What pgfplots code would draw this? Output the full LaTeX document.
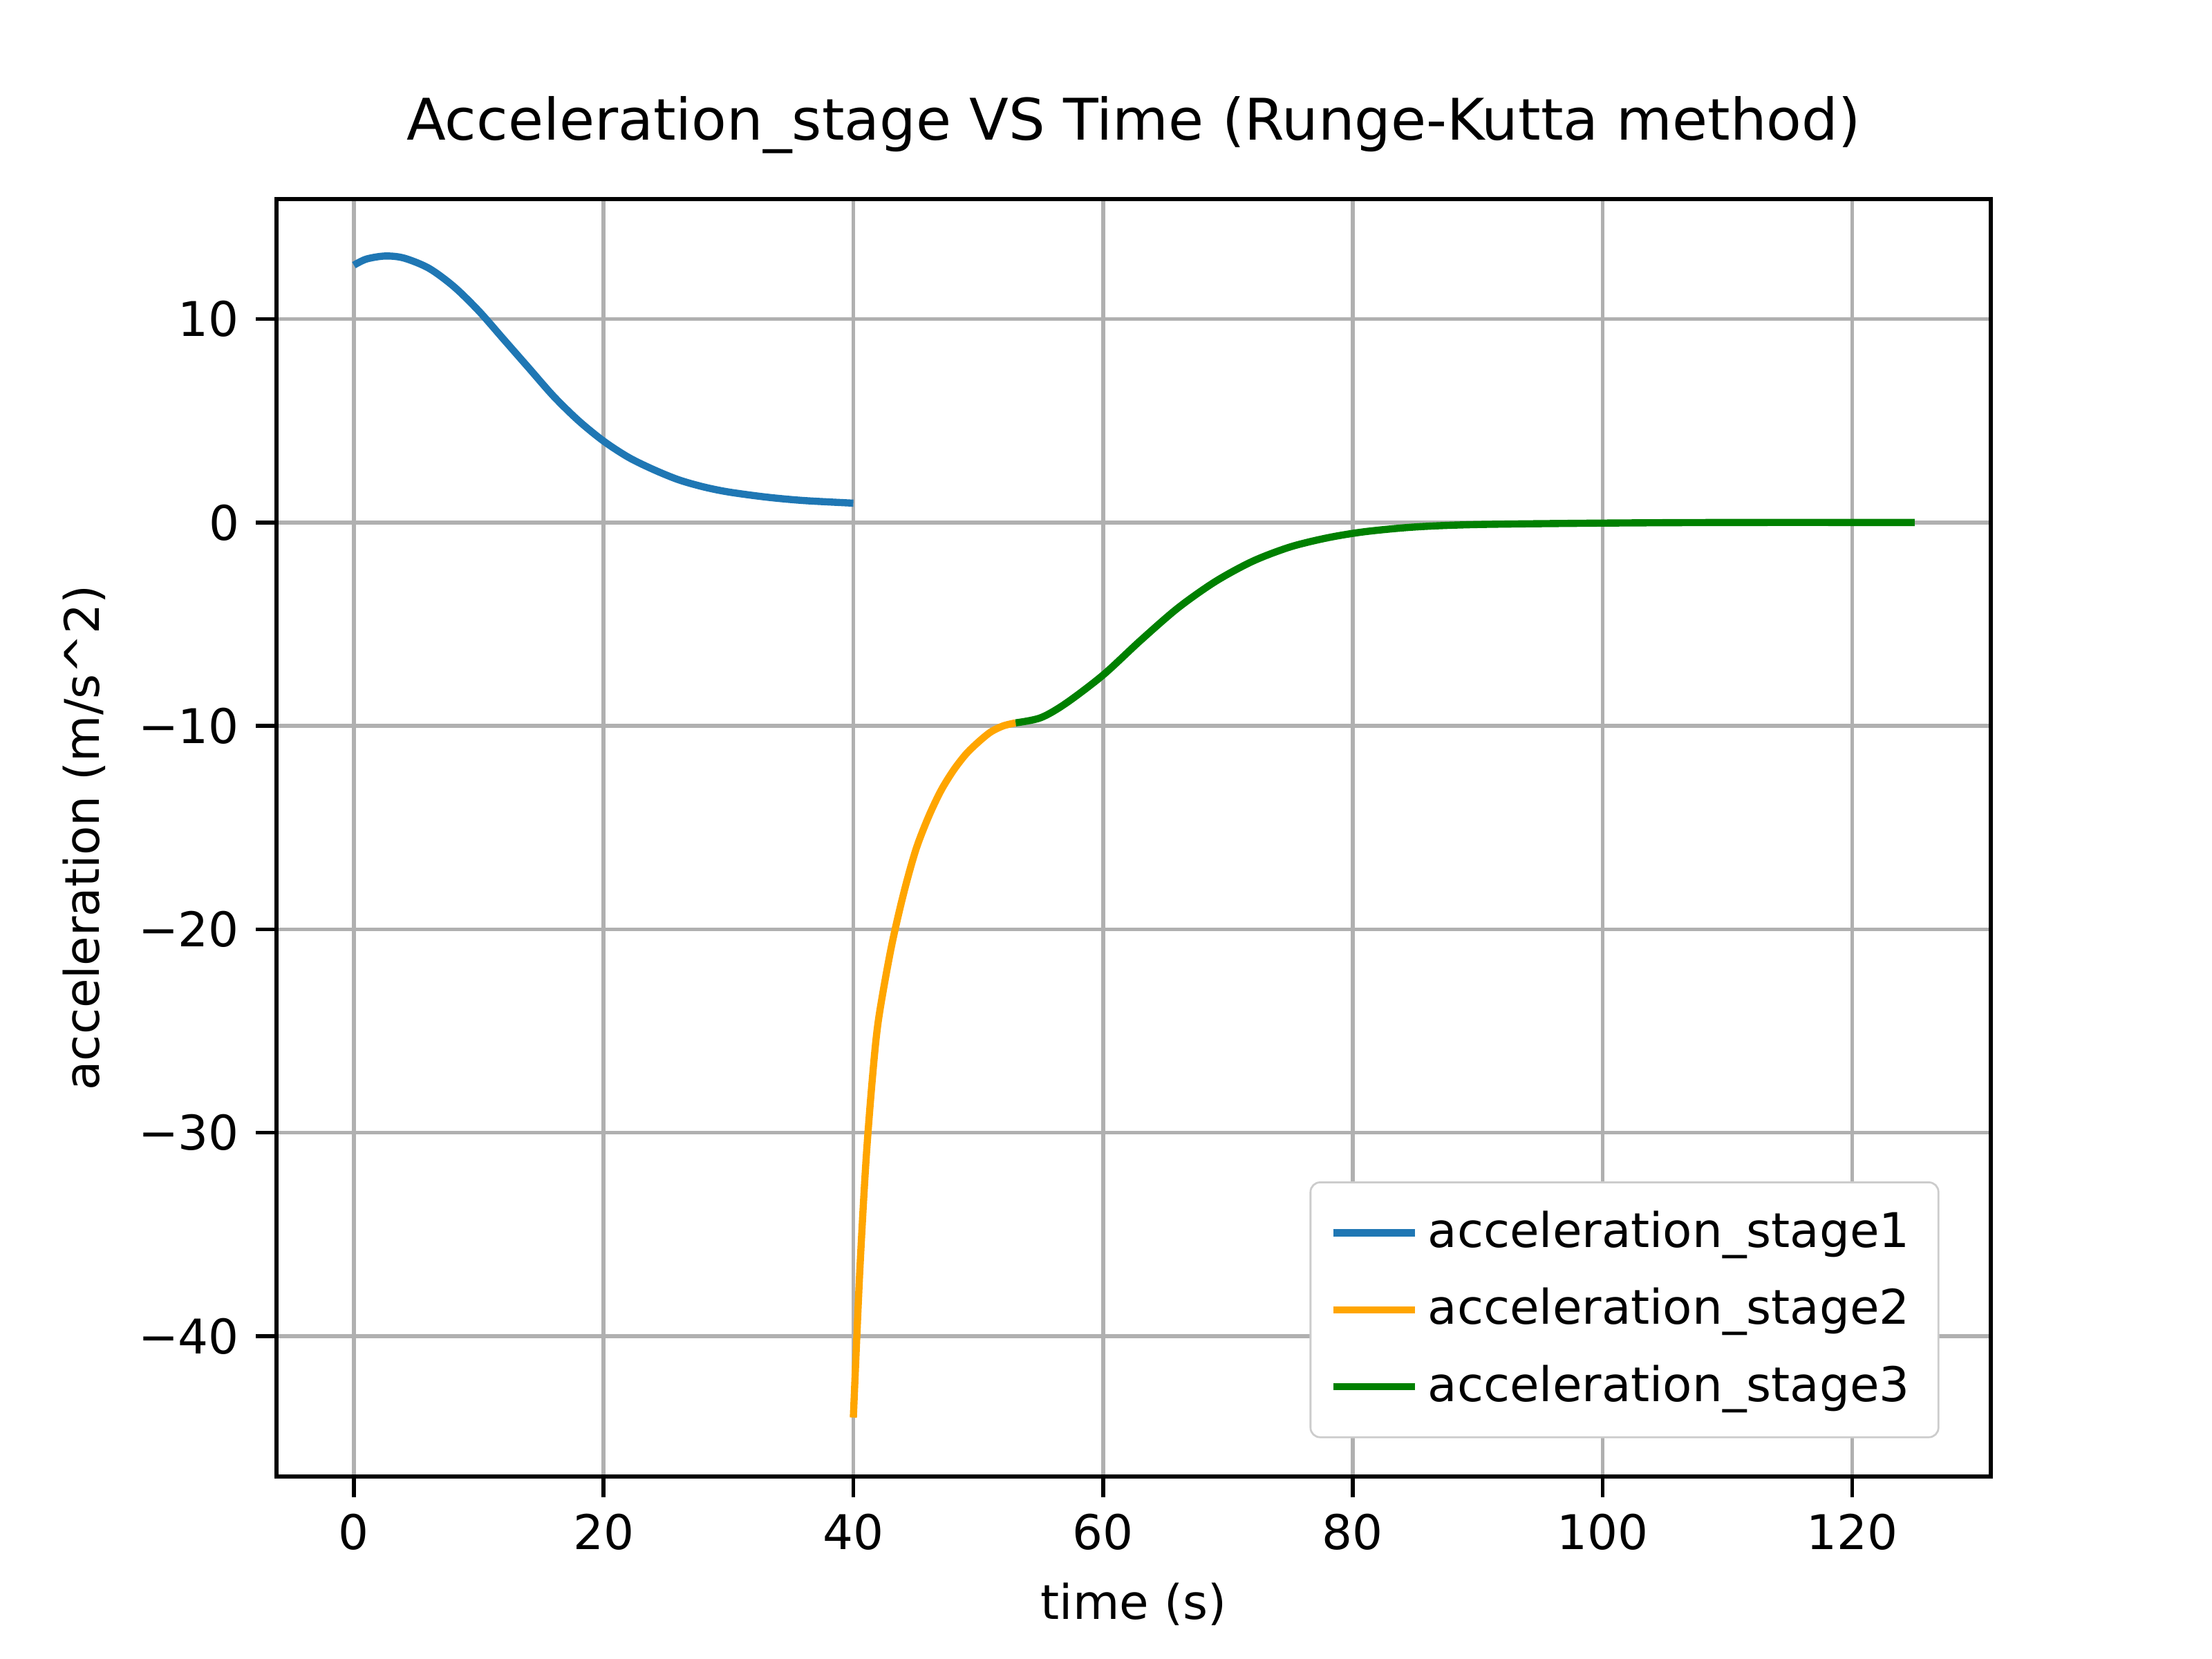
\documentclass[border=0pt]{standalone}
\usepackage{pgfplots}
\pgfplotsset{compat=1.18}
\usepackage{fontspec}
\setmainfont{DejaVu Sans}
\usetikzlibrary{calc}
\definecolor{c0}{HTML}{1F77B4}
\definecolor{c1}{HTML}{FFA500}
\definecolor{c2}{HTML}{008000}
\begin{document}
\begin{tikzpicture}
\begin{axis}[name=ax, scale only axis, width=4.96in, height=3.696in,
 xmin=-6.2, xmax=131.1, ymin=-46.9, ymax=15.9,
 xtick={0,20,...,120}, ytick={-40,-30,-20,-10,0,10},
 xticklabels={0,20,40,60,80,100,120},
 yticklabels={−40,−30,−20,−10,0,10},
 grid=major, grid style={color=black!31, line width=0.8pt},
 axis line style={line width=0.8pt}, tick style={black, line width=0.8pt},
 tick align=outside, tick pos=left,
 title={Acceleration\_stage VS Time (Runge-Kutta method)},
 title style={font=\large},
 xlabel={time (s)}, ylabel={acceleration (m/s\^{}2)},
 legend pos=south east,
 legend style={draw=black!20, rounded corners=2pt, font=\normalsize, row sep=3pt, inner sep=4pt},
 legend cell align=left,
 every axis plot/.append style={line width=1.5pt, smooth}]
\addplot[c0] coordinates {(0,12.65)(1,12.95)(2.5,13.1)(4,13.0)(6,12.5)(8,11.6)(10,10.4)(12,9.0)(14,7.6)(16,6.2)(18,5.0)(20,4.0)(22,3.2)(24,2.6)(26,2.1)(28,1.75)(30,1.5)(33,1.25)(36,1.08)(40,0.95)};
\addlegendentry{acceleration\_stage1}
\addplot[c1] coordinates {(40,-44)(40.5,-37)(41,-31.5)(41.5,-27.5)(42,-24.5)(43,-21)(44,-18.3)(45,-16.1)(46,-14.5)(47,-13.2)(48,-12.2)(49,-11.4)(50,-10.8)(51,-10.3)(52,-10.0)(53,-9.85)};
\addlegendentry{acceleration\_stage2}
\addplot[c2] coordinates {(53,-9.85)(55,-9.6)(57,-8.9)(60,-7.5)(63,-5.8)(66,-4.2)(69,-2.9)(72,-1.9)(75,-1.2)(78,-0.75)(81,-0.45)(85,-0.22)(90,-0.1)(100,-0.03)(110,0)(125,0)};
\addlegendentry{acceleration\_stage3}
\end{axis}
\path[use as bounding box] ($(ax.south west)+(-0.8in,-0.528in)$) rectangle ($(ax.north east)+(0.64in,0.576in)$);
\end{tikzpicture}
\end{document}
